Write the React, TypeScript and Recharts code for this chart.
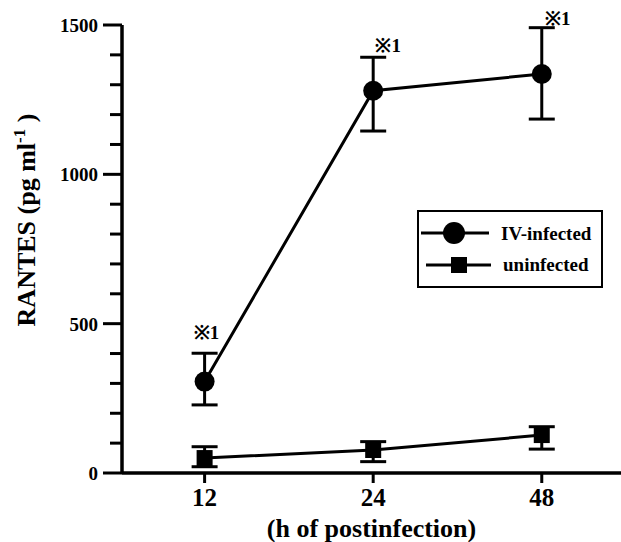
import React from 'react';
import { LineChart, Line, XAxis, YAxis, ErrorBar, LabelList } from 'recharts';

const hours = ['12', '24', '48'];
const infMean = [306, 1280, 1336];
const infHi = [401, 1392, 1491];
const infLo = [228, 1145, 1185];
const uninfMean = [50, 77, 127];
const uninfHi = [88, 105, 155];
const uninfLo = [21, 38, 80];
const notes = ['※1', '※1', '※1'];
const yTicks = [0, 100, 200, 300, 400, 500, 600, 700, 800, 900, 1000, 1100, 1200, 1300, 1400, 1500];
const yLabels = [0, 500, 1000, 1500];

const data = hours.map((h, i) => ({
  idx: i,
  inf: infMean[i],
  infHi: infHi[i],
  infErr: [infMean[i] - infLo[i], infHi[i] - infMean[i]],
  uninf: uninfMean[i],
  uninfErr: [uninfMean[i] - uninfLo[i], uninfHi[i] - uninfMean[i]],
  note: notes[i],
}));

const FONT = '"Liberation Serif", "Times New Roman", serif';
const noteDx = [2, 15, 16];
const noteDy = [-21, -12, -10];

const YTick = (props: any) => {
  const { x, y, payload } = props;
  const major = yLabels.includes(payload.value);
  const len = major ? 19 : 12;
  return (
    <g>
      <line x1={x - len} y1={y} x2={x} y2={y} stroke="#000" strokeWidth={3} />
      {major && (
        <text x={x - 24} y={y + 7} textAnchor="end" fontFamily={FONT} fontWeight="bold" fontSize={19} fill="#000">
          {payload.value}
        </text>
      )}
    </g>
  );
};

const XTick = (props: any) => {
  const { x, y, payload } = props;
  return (
    <g>
      <line x1={x} y1={y} x2={x} y2={y + 10} stroke="#000" strokeWidth={3} />
      <text x={x} y={y + 33} textAnchor="middle" fontFamily={FONT} fontWeight="bold" fontSize={25} fill="#000">
        {hours[payload.value]}
      </text>
    </g>
  );
};

const SquareDot = (props: any) => {
  const { cx, cy, index } = props;
  return <rect key={index} x={cx - 8} y={cy - 8} width={16} height={16} fill="#000" />;
};

const CircleDot = (props: any) => {
  const { cx, cy, index } = props;
  return <circle key={index} cx={cx} cy={cy} r={10} fill="#000" />;
};

const NoteLabel = (props: any) => {
  const { x, y, value, index } = props;
  return (
    <text
      x={x + noteDx[index]}
      y={y + noteDy[index] + 7}
      textAnchor="middle"
      fontFamily={FONT}
      fontWeight="bold"
      fontSize={19}
      fill="#000"
    >
      {value}
    </text>
  );
};

const LegendBox = () => (
  <div
    style={{
      position: 'absolute',
      left: 417,
      top: 210,
      border: '2px solid #000',
      width: 182,
      height: 74,
      background: '#fff',
    }}
  >
    <svg width={182} height={74} style={{ display: 'block' }}>
      <line x1={2} y1={21} x2={70} y2={21} stroke="#000" strokeWidth={3} />
      <circle cx={35} cy={21} r={11} fill="#000" />
      <text x={82} y={28} fontFamily={FONT} fontWeight="bold" fontSize={19} fill="#000">IV-infected</text>
      <line x1={7} y1={53} x2={72} y2={53} stroke="#000" strokeWidth={3} />
      <rect x={32} y={45} width={16} height={16} fill="#000" />
      <text x={84} y={59} fontFamily={FONT} fontWeight="bold" fontSize={19} fill="#000">uninfected</text>
    </svg>
  </div>
);

const YLabel = () => (
  <text
    transform="translate(35, 220) rotate(-90)"
    textAnchor="middle"
    fontFamily={FONT}
    fontWeight="bold"
    fontSize={26}
    fill="#000"
  >
    RANTES (pg ml
    <tspan fontSize={17} dy={-10}>-1</tspan>
    <tspan dy={10}> )</tspan>
  </text>
);

export default function App() {
  return (
    <div style={{ position: 'absolute', left: 0, top: 0, width: 621, height: 542, background: '#fff' }}>
      <LineChart width={621} height={542} data={data} margin={{ top: 25, right: 0, bottom: 0, left: 0 }}>
        <XAxis
          type="number"
          dataKey="idx"
          domain={[-0.49, 2.47]}
          ticks={[0, 1, 2]}
          allowDataOverflow
          height={69}
          tickSize={0}
          tickMargin={0}
          tickLine={false}
          tick={<XTick />}
          axisLine={{ stroke: '#000', strokeWidth: 3.5 }}
          label={{
            value: '(h of postinfection)',
            position: 'insideBottom',
            offset: 5,
            fontFamily: FONT,
            fontWeight: 'bold',
            fontSize: 26,
            fill: '#000',
          }}
        />
        <YAxis
          type="number"
          domain={[0, 1500]}
          ticks={yTicks}
          interval={0}
          width={122}
          tickSize={0}
          tickMargin={0}
          tickLine={false}
          tick={<YTick />}
          axisLine={{ stroke: '#000', strokeWidth: 3.5 }}
          label={<YLabel />}
        />
        <Line dataKey="uninf" stroke="#000" strokeWidth={3} dot={<SquareDot />} isAnimationActive={false}>
          <ErrorBar dataKey="uninfErr" width={13} strokeWidth={3} stroke="#000" />
        </Line>
        <Line dataKey="inf" stroke="#000" strokeWidth={3} dot={<CircleDot />} isAnimationActive={false}>
          <ErrorBar dataKey="infErr" width={13} strokeWidth={3} stroke="#000" />
        </Line>
        <Line dataKey="infHi" stroke="none" dot={false} activeDot={false} isAnimationActive={false}>
          <LabelList dataKey="note" content={<NoteLabel />} />
        </Line>
      </LineChart>
      <LegendBox />
    </div>
  );
}
